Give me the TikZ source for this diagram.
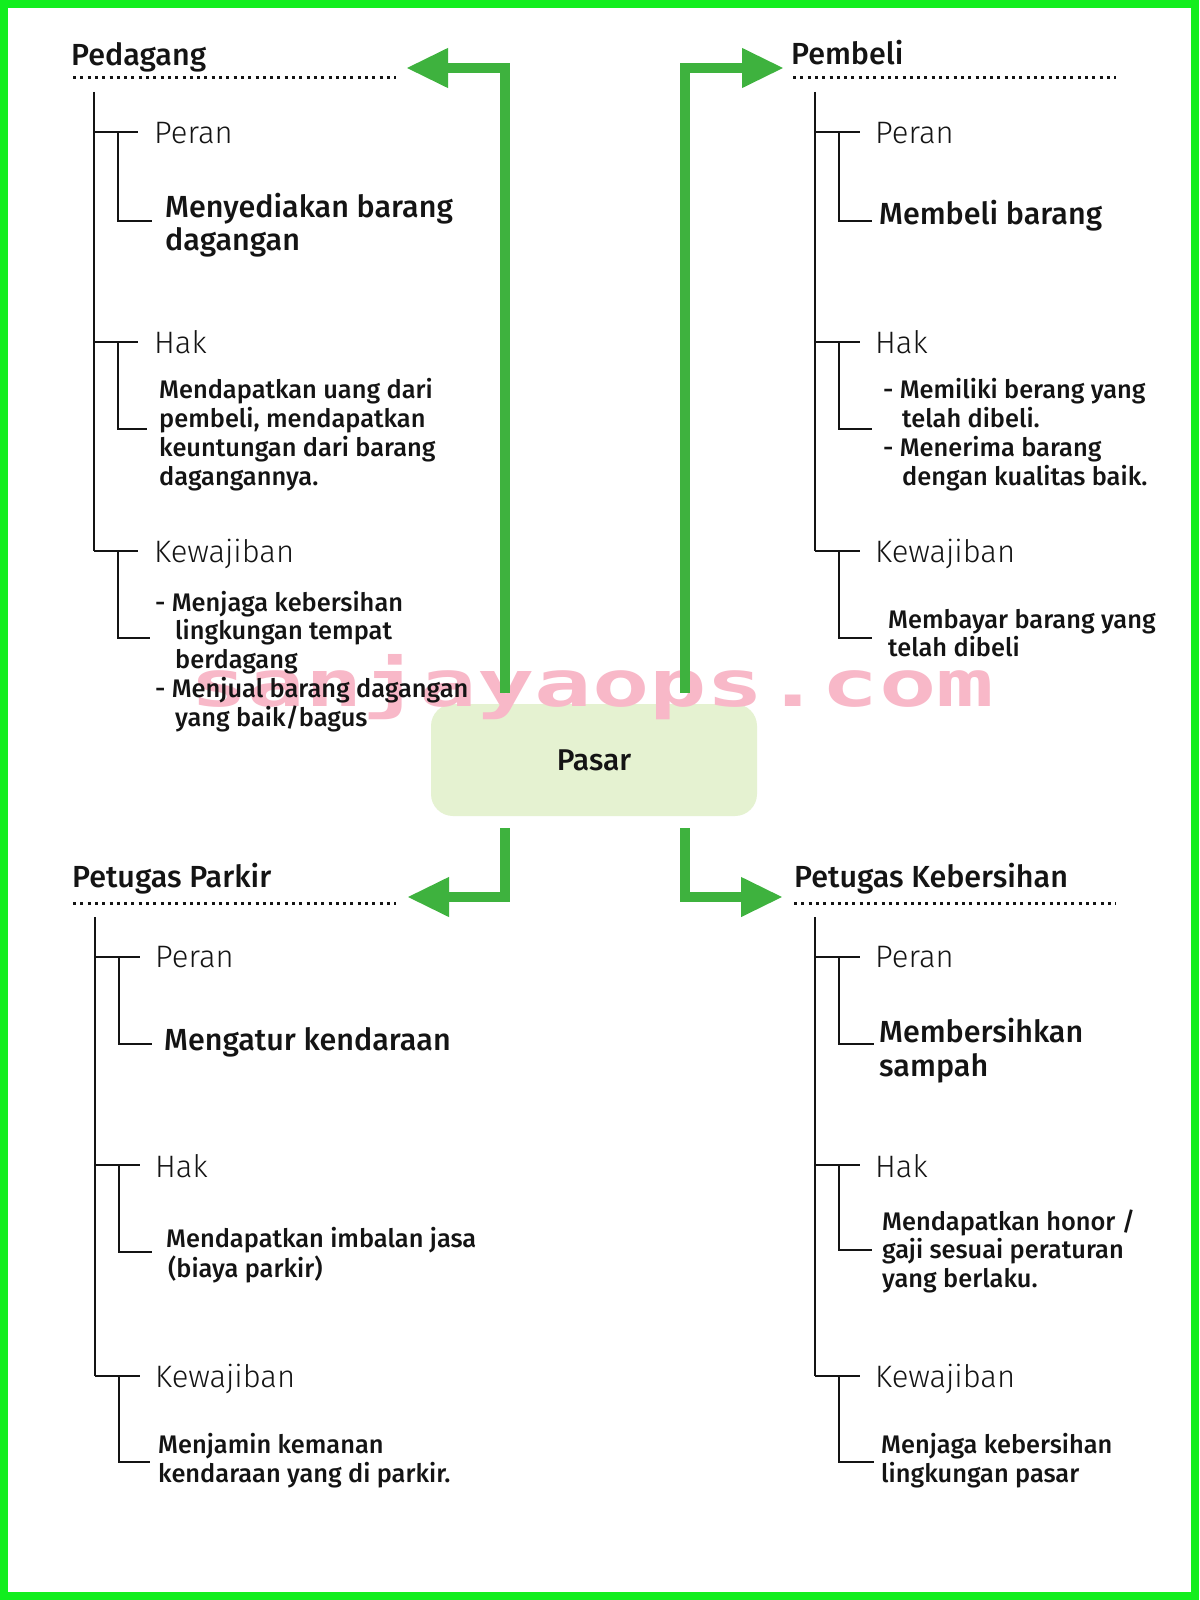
\documentclass[tikz,border=0pt]{standalone}
\usepackage{fontspec}
\usepackage{graphicx}
\setmainfont{Fira Sans}
\IfFontExistsTF{Fira Sans Medium}{\newfontfamily\fmed{Fira Sans Medium}}{\newfontfamily\fmed{Fira Sans}}
\IfFontExistsTF{Fira Sans Light}{\newfontfamily\flight{Fira Sans Light}}{\newfontfamily\flight{Fira Sans}}
\newfontfamily\wmfont{DejaVu Sans Mono}
\usetikzlibrary{arrows.meta}
\definecolor{gborder}{RGB}{18,238,30}
\definecolor{garrow}{RGB}{62,178,62}
\definecolor{boxfill}{RGB}{229,242,209}
\definecolor{wmpink}{RGB}{248,184,200}
\definecolor{ink}{RGB}{20,20,20}
\newcommand\mybranch[7]{%
  \coordinate (#1-j) at (#2,#3);
  \coordinate (#1-e) at (#7,#3);
  \coordinate (#1-s) at (#4,#3);
  \coordinate (#1-c) at (#4,#5);
  \coordinate (#1-f) at (#6,#5);
  \draw[tree] (#1-j) -- (#1-e);
  \draw[tree] (#1-s) -- (#1-c) -- (#1-f);
}
\begin{document}
\begin{tikzpicture}[x=1pt,y=-1pt,
  ttl/.style={font=\fmed\fontsize{30.5}{34}\selectfont, text=ink, anchor=base west, inner sep=0pt},
  lab/.style={font=\flight\fontsize{31}{34}\selectfont, text=ink, anchor=base west, inner sep=0pt},
  mainx/.style={font=\fmed\fontsize{30.5}{33}\selectfont, text=ink, anchor=base west, inner sep=0pt, align=left},
  det/.style={font=\fmed\fontsize{25.4}{28.7}\selectfont, text=ink, anchor=base west, inner sep=0pt, align=left},
  dotline/.style={line width=3pt, dash pattern=on 3pt off 4.3pt, draw=ink},
  tree/.style={line width=2pt, draw=ink},
  garr/.style={draw=garrow, line width=10pt, -{Triangle[length=42pt,width=37pt]}},
]
\fill[white] (0,0) rectangle (1199,1600);
\path[use as bounding box] (0,0) rectangle (1199,1600);

% Pasar box
\node[fill=boxfill, rounded corners=22pt, minimum width=326pt, minimum height=112pt, inner sep=0pt,
      font=\fmed\fontsize{30}{34}\selectfont, text=ink] (pasar) at (594,760) {Pasar};

% watermark
\node[anchor=base west, inner sep=0pt, text=wmpink, font=\wmfont\bfseries\fontsize{64}{64}\selectfont] (wm) at (190,706) {\scalebox{1.49}[1]{sanjayaops.com}};

% green arrows
\coordinate (tipTL) at (406,68);
\coordinate (tipTR) at (784,68);
\coordinate (tipBL) at (407,897);
\coordinate (tipBR) at (783,897);
\draw[garr] ([xshift=-89pt,yshift=11pt]pasar.north) |- (tipTL);
\draw[garr] ([xshift=91pt,yshift=11pt]pasar.north) |- (tipTR);
\draw[garr] ([xshift=-89pt,yshift=-12pt]pasar.south) |- (tipBL);
\draw[garr] ([xshift=91pt,yshift=-12pt]pasar.south) |- (tipBR);

% ---------- Pedagang ----------
\node[ttl] (t1) at (71,66) {Pedagang};
\coordinate (t1a) at (73,78); \coordinate (t1b) at (396,78);
\draw[dotline] (t1a) -- (t1b);
\coordinate (a-top) at (93.5,92);
\mybranch{a1}{93.5}{132}{117.5}{221}{152}{138}
\mybranch{a2}{93.5}{342}{117.5}{429}{147}{138}
\mybranch{a3}{93.5}{551}{117.5}{638}{150}{138}
\draw[tree] (a-top) -- (a3-j);
\node[lab] (a1l) at (154,143) {Peran};
\node[lab] (a2l) at (154,353) {Hak};
\node[lab] (a3l) at (154,562) {Kewajiban};
\node[mainx] (a1t) at (165,250) {Menyediakan barang\\dagangan};
\node[det] (a2t) at (159,485) {Mendapatkan uang dari\\pembeli, mendapatkan\\keuntungan dari barang\\dagangannya.};
\node[det] (a3t) at (155,726) {- Menjaga kebersihan\\\hspace*{20pt}lingkungan tempat\\\hspace*{20pt}berdagang\\- Menjual barang dagangan\\\hspace*{20pt}yang baik/bagus};

% ---------- Pembeli ----------
\node[ttl] (t2) at (791,65) {Pembeli};
\coordinate (t2a) at (793,78); \coordinate (t2b) at (1116,78);
\draw[dotline] (t2a) -- (t2b);
\coordinate (b-top) at (814.5,92);
\mybranch{b1}{814.5}{132}{838.5}{221}{872}{860}
\mybranch{b2}{814.5}{342}{838.5}{429}{872}{860}
\mybranch{b3}{814.5}{551}{838.5}{638}{872}{860}
\draw[tree] (b-top) -- (b3-j);
\node[lab] (b1l) at (875,143) {Peran};
\node[lab] (b2l) at (875,353) {Hak};
\node[lab] (b3l) at (875,562) {Kewajiban};
\node[mainx] (b1t) at (879,224) {Membeli barang};
\node[det] (b2t) at (883,485) {- Memiliki berang yang\\\hspace*{19pt}telah dibeli.\\- Menerima barang\\\hspace*{19pt}dengan kualitas baik.};
\node[det] (b3t) at (888,656.7) {Membayar barang yang\\telah dibeli};

% ---------- Petugas Parkir ----------
\node[ttl] (t3) at (72,887) {Petugas Parkir};
\coordinate (t3a) at (73,903); \coordinate (t3b) at (396,903);
\draw[dotline] (t3a) -- (t3b);
\coordinate (c-top) at (95,917);
\mybranch{c1}{95}{957}{119}{1044}{152}{140}
\mybranch{c2}{95}{1165}{119}{1252}{152}{140}
\mybranch{c3}{95}{1376}{119}{1462}{150}{140}
\draw[tree] (c-top) -- (c3-j);
\node[lab] (c1l) at (155,967) {Peran};
\node[lab] (c2l) at (155,1177) {Hak};
\node[lab] (c3l) at (155,1387) {Kewajiban};
\node[mainx] (c1t) at (164,1050) {Mengatur kendaraan};
\node[det, font=\fmed\fontsize{25.4}{30}\selectfont] (c2t) at (166,1277) {Mendapatkan imbalan jasa\\\hspace*{2pt}(biaya parkir)};
\node[det] (c3t) at (158,1482) {Menjamin kemanan\\kendaraan yang di parkir.};

% ---------- Petugas Kebersihan ----------
\node[ttl] (t4) at (794,887) {Petugas Kebersihan};
\coordinate (t4a) at (794,903); \coordinate (t4b) at (1116,903);
\draw[dotline] (t4a) -- (t4b);
\coordinate (d-top) at (814.5,917);
\mybranch{d1}{814.5}{957}{839}{1044}{874}{860}
\mybranch{d2}{814.5}{1165}{839}{1250}{872}{860}
\mybranch{d3}{814.5}{1376}{839}{1462}{874}{860}
\draw[tree] (d-top) -- (d3-j);
\node[lab] (d1l) at (875,967) {Peran};
\node[lab] (d2l) at (875,1177) {Hak};
\node[lab] (d3l) at (875,1387) {Kewajiban};
\node[mainx, font=\fmed\fontsize{30.5}{34}\selectfont] (d1t) at (879,1076) {Membersihkan\\sampah};
\node[det, font=\fmed\fontsize{25.4}{28.5}\selectfont] (d2t) at (882,1287) {Mendapatkan honor /\\gaji sesuai peraturan\\yang berlaku.};
\node[det] (d3t) at (881,1482) {Menjaga kebersihan\\lingkungan pasar};

% frame
\draw[gborder, line width=8pt] (4,4) rectangle (1195,1596);
\end{tikzpicture}
\end{document}
